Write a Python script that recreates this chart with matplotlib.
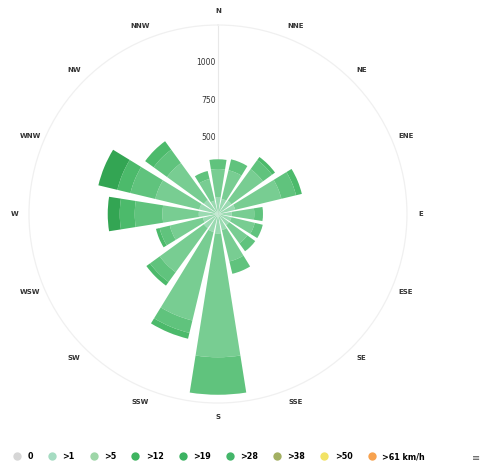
import numpy as np
import matplotlib
matplotlib.use("Agg")
import matplotlib.pyplot as plt
from matplotlib.lines import Line2D

# wind directions, clockwise from north
directions = ['N', 'NNE', 'NE', 'ENE', 'E', 'ESE', 'SE', 'SSE',
              'S', 'SSW', 'SW', 'WSW', 'W', 'WNW', 'NW', 'NNW']

# hours per speed class (km/h)
speed_labels = ['0', '>1', '>5', '>12', '>19', '>28', '>38', '>50', '>61 km/h']
calm = [15, 14, 16, 18, 12, 12, 12, 15, 20, 18, 16, 14, 18, 18, 16, 12]
sp_1 = [95, 90, 95, 100, 80, 80, 80, 95, 110, 105, 100, 90, 110, 110, 100, 80]
sp_5 = [190, 196, 259, 317, 150, 160, 150, 215, 825, 607, 364, 226, 242, 302, 304, 148]
sp_12 = [65, 75, 75, 100, 58, 55, 65, 85, 250, 85, 80, 70, 185, 170, 110, 55]
sp_19 = [0, 0, 25, 40, 0, 0, 0, 0, 0, 40, 30, 25, 100, 90, 70, 0]
sp_28 = [0, 0, 0, 0, 0, 0, 0, 0, 0, 0, 0, 0, 80, 130, 0, 0]
sp_38 = [0] * 16
sp_50 = [0] * 16
sp_61 = [0] * 16
series = [calm, sp_1, sp_5, sp_12, sp_19, sp_28, sp_38, sp_50, sp_61]

bar_colors = ['#a6dfbb', '#9adab1', '#78cd92', '#60c37d', '#4cba6b', '#33a553',
              '#9aae5a', '#f0e050', '#f7a045']
legend_colors = ['#d6d6d6', '#a6dcc2', '#9ed6a8', '#3fb460', '#3cb362', '#44b66a',
                 '#a3b062', '#f2e366', '#f7a24f']

r_ticks = [500, 750, 1000]
r_max = 1260

fig = plt.figure(figsize=(4.83, 4.65), dpi=100)
ax = fig.add_axes([0.060, 0.1333, 0.7826, 0.8129], projection='polar')
ax.set_theta_zero_location('N')
ax.set_theta_direction(-1)
ax.set_ylim(0, r_max)

theta = np.arange(len(directions)) * 2 * np.pi / len(directions)
width = 0.8 * 2 * np.pi / len(directions)

bottom = np.zeros(len(directions))
for vals, col in zip(series, bar_colors):
    vals = np.array(vals, dtype=float)
    ax.bar(theta, vals, width=width, bottom=bottom, color=col,
           edgecolor='none', align='center', zorder=3)
    bottom += vals

# grid: only the north spoke and the outer ring, very faint
ax.set_xticks([0])
ax.set_xticklabels([''])
ax.set_yticks([])
ax.xaxis.grid(True, color='#e8e8e8', linewidth=0.8)
ax.yaxis.grid(False)
ax.spines['polar'].set_color('#f0f0f0')
ax.spines['polar'].set_linewidth(0.9)

for t, name in zip(theta, directions):
    ax.text(t, r_max * 1.075, name, ha='center', va='center', fontsize=5,
            fontweight='bold', color='#333333', clip_on=False)

for r in r_ticks:
    ax.annotate(str(r), xy=(0, r), xytext=(-1.5, 1), textcoords='offset points',
                ha='right', va='center', fontsize=5.5, color='#333333', zorder=2)

handles = [Line2D([], [], marker='o', linestyle='', markersize=6,
                  markerfacecolor=c, markeredgecolor='none') for c in legend_colors]
fig.legend(handles, speed_labels, loc='center left', bbox_to_anchor=(0.022, 0.018),
           ncol=len(speed_labels), frameon=False, handlelength=0.8,
           handletextpad=0.9, columnspacing=1.95, borderaxespad=0,
           prop={'size': 5.8, 'weight': 'bold'})

fig.text(0.995, 0.015, '≡', ha='right', va='center', fontsize=7, color='#555555')

fig.savefig('out.png', dpi=100, facecolor='white')
